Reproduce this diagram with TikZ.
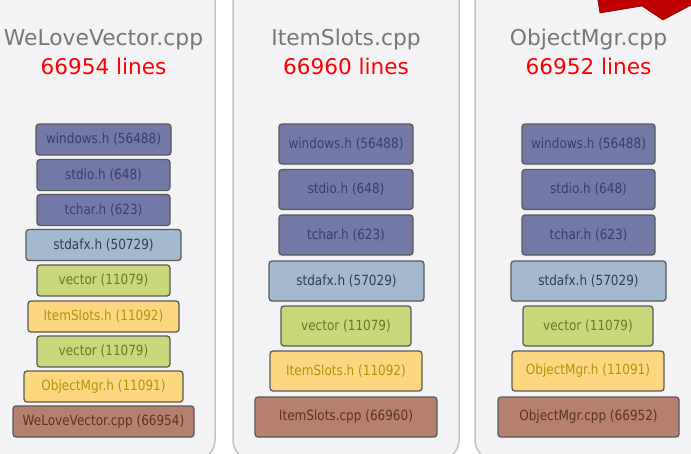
\documentclass[tikz,border=0pt]{standalone}
\usepackage{fontspec}
\setmainfont{DejaVu Sans}
\newfontfamily\boxfont[FakeStretch=0.86]{DejaVu Sans}
\definecolor{panelfill}{HTML}{F3F2F5}
\definecolor{panelline}{HTML}{C4C4C8}
\definecolor{titlegray}{HTML}{777777}
\definecolor{boxline}{HTML}{5A5A5A}
\definecolor{winfill}{HTML}{7379A7}
\definecolor{wintext}{HTML}{3B3F66}
\definecolor{stdfill}{HTML}{A3B9D0}
\definecolor{stdtext}{HTML}{2F3D55}
\definecolor{vecfill}{HTML}{C9D77A}
\definecolor{vectext}{HTML}{6A7A25}
\definecolor{ylwfill}{HTML}{FCD780}
\definecolor{ylwtext}{HTML}{B8900A}
\definecolor{cppfill}{HTML}{B5806F}
\definecolor{cpptext}{HTML}{5A3328}
\definecolor{redshape}{HTML}{C00000}
\begin{document}
\begin{tikzpicture}[x=1pt,y=-1pt,
  panel/.style={fill=panelfill,draw=panelline,line width=1.5pt,rounded corners=20pt},
  title/.style={anchor=base,text=titlegray,font=\fontsize{21.8}{25}\selectfont,inner sep=0pt},
  lines/.style={anchor=base,text=red,font=\fontsize{21.6}{25}\selectfont,inner sep=0pt},
  hbox/.style={draw=boxline,line width=1.3pt,rounded corners=3pt,inner sep=0pt,
    font=\boxfont\fontsize{14}{16}\selectfont},
  small/.style={hbox,minimum height=31pt},
  big/.style={hbox,minimum height=40pt},
  winb/.style={fill=winfill,text=wintext},
  stdb/.style={fill=stdfill,text=stdtext},
  vecb/.style={fill=vecfill,text=vectext},
  ylwb/.style={fill=ylwfill,text=ylwtext},
  cppb/.style={fill=cppfill,text=cpptext}]
\useasboundingbox (0,0) rectangle (691,453);
\fill[white] (0,0) rectangle (691,453);
% panels
\draw[panel] (-30,-30) rectangle (215,460);
\draw[panel] (233,-30) rectangle (459,460);
\draw[panel] (475,-30) rectangle (720,460);
% red shape
\fill[redshape,draw=redshape!70!black,line width=0.6pt] (597,-5) -- (600,13) -- (642,6) -- (663,20) -- (695,3) -- (695,-5) -- cycle;
% titles
\node[title] (t1) at (103.5,45) {WeLoveVector.cpp};
\node[lines] (l1) at (103.5,74) {66954 lines};
\node[title] (t2) at (346,45) {ItemSlots.cpp};
\node[lines] (l2) at (346,74) {66960 lines};
\node[title] (t3) at (588.5,45) {ObjectMgr.cpp};
\node[lines] (l3) at (588.5,74) {66952 lines};
% panel 1
\node[small,winb,minimum width=135pt] (a1) at (103.5,139.5) {windows.h (56488)};
\node[small,winb,minimum width=133pt] (a2) at (103.5,175) {stdio.h (648)};
\node[small,winb,minimum width=133pt] (a3) at (103.5,210) {tchar.h (623)};
\node[small,stdb,minimum width=155pt] (a4) at (103.5,245) {stdafx.h (50729)};
\node[small,vecb,minimum width=133pt] (a5) at (103.5,280.5) {vector (11079)};
\node[small,ylwb,minimum width=151pt] (a6) at (103.5,316.5) {ItemSlots.h (11092)};
\node[small,vecb,minimum width=133pt] (a7) at (103.5,351.5) {vector (11079)};
\node[small,ylwb,minimum width=159pt] (a8) at (103.5,386.5) {ObjectMgr.h (11091)};
\node[small,cppb,minimum width=181pt] (a9) at (103.5,421.5) {WeLoveVector.cpp (66954)};
% panel 2
\node[big,winb,minimum width=134pt] (b1) at (346,144) {windows.h (56488)};
\node[big,winb,minimum width=134pt] (b2) at (346,189.5) {stdio.h (648)};
\node[big,winb,minimum width=134pt] (b3) at (346,235) {tchar.h (623)};
\node[big,stdb,minimum width=155pt] (b4) at (346.5,281) {stdafx.h (57029)};
\node[big,vecb,minimum width=130pt] (b5) at (346,326) {vector (11079)};
\node[big,ylwb,minimum width=152pt] (b6) at (346,371) {ItemSlots.h (11092)};
\node[big,cppb,minimum width=182pt] (b7) at (346,417) {ItemSlots.cpp (66960)};
% panel 3
\node[big,winb,minimum width=133pt] (c1) at (588.5,144) {windows.h (56488)};
\node[big,winb,minimum width=133pt] (c2) at (588.5,189.5) {stdio.h (648)};
\node[big,winb,minimum width=133pt] (c3) at (588.5,235) {tchar.h (623)};
\node[big,stdb,minimum width=155pt] (c4) at (588.5,281) {stdafx.h (57029)};
\node[big,vecb,minimum width=130pt] (c5) at (588,326) {vector (11079)};
\node[big,ylwb,minimum width=152pt] (c6) at (588,371) {ObjectMgr.h (11091)};
\node[big,cppb,minimum width=181pt] (c7) at (588.5,417) {ObjectMgr.cpp (66952)};
\end{tikzpicture}
\end{document}
